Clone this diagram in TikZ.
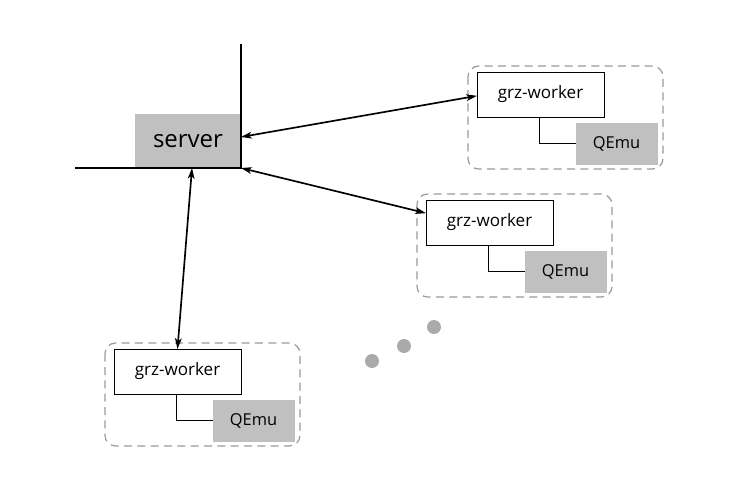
\documentclass[tikz,border=0pt]{standalone}
\usepackage{fontspec}
\setmainfont{Open Sans}
\usetikzlibrary{arrows.meta}
\definecolor{boxgray}{HTML}{C0C0C0}
\definecolor{dashgray}{HTML}{999999}
\definecolor{dotgray}{HTML}{AAAAAA}
\tikzset{
  every node/.style={inner sep=0pt, outer sep=0pt},
  workerbox/.style={draw=black, line width=0.65pt, fill=white, minimum width=127*0.75pt, minimum height=45*0.75pt, font=\fontsize{12.8}{14}\selectfont},
  qemubox/.style={fill=boxgray, minimum width=82*0.75pt, minimum height=42*0.75pt, font=\fontsize{12.3}{14}\selectfont},
  serverbox/.style={fill=boxgray, minimum width=106*0.75pt, minimum height=54*0.75pt, font=\fontsize{18}{21}\selectfont},
  groupframe/.style={draw=dashgray, line width=0.9pt, dash pattern=on 6pt off 4pt, rounded corners=8pt},
  link/.style={line width=1.25pt, {Stealth[length=8pt,width=5pt,inset=2pt]}-{Stealth[length=8pt,width=5pt,inset=2pt]}},
  thinlink/.style={line width=0.7pt},
  axis/.style={line width=1.2pt},
  dotstyle/.style={fill=dotgray, circle, minimum size=14*0.75pt}
}
\begin{document}
\begin{tikzpicture}[x=0.75pt, y=-0.75pt]
\useasboundingbox (0,0) rectangle (744,500);
% server
\node[serverbox] (s) at (188,141) {server};
\coordinate (top) at (241,44);
\coordinate (left) at (75,168);
\draw[axis] (top) |- (left);
% workers
\foreach \i/\dx/\dy in {1/0/0, 2/-51/128, 3/-363/277}{
  \begin{scope}[shift={(\dx,\dy)}]
    \draw[groupframe] (468,66) rectangle (663,169);
    \node[workerbox] (w\i) at (540.5,94.5) {grz-worker};
    \node[qemubox] (q\i) at (616.5,143.5) {QEmu};
    \draw[thinlink] ([xshift=-1pt]w\i.south) |- (q\i.west);
  \end{scope}
}
% links
\draw[link] ([yshift=3pt]s.east) -- ([yshift=-1pt]w1.west);
\draw[link] (s.south east) -- ([yshift=7pt]w2.west);
\draw[link] ([xshift=3pt]s.south) -- (w3.north);
% dots
\node[dotstyle] (d1) at (372,361) {};
\node[dotstyle] (d2) at (404,346) {};
\node[dotstyle] (d3) at (434,327) {};
\end{tikzpicture}
\end{document}
